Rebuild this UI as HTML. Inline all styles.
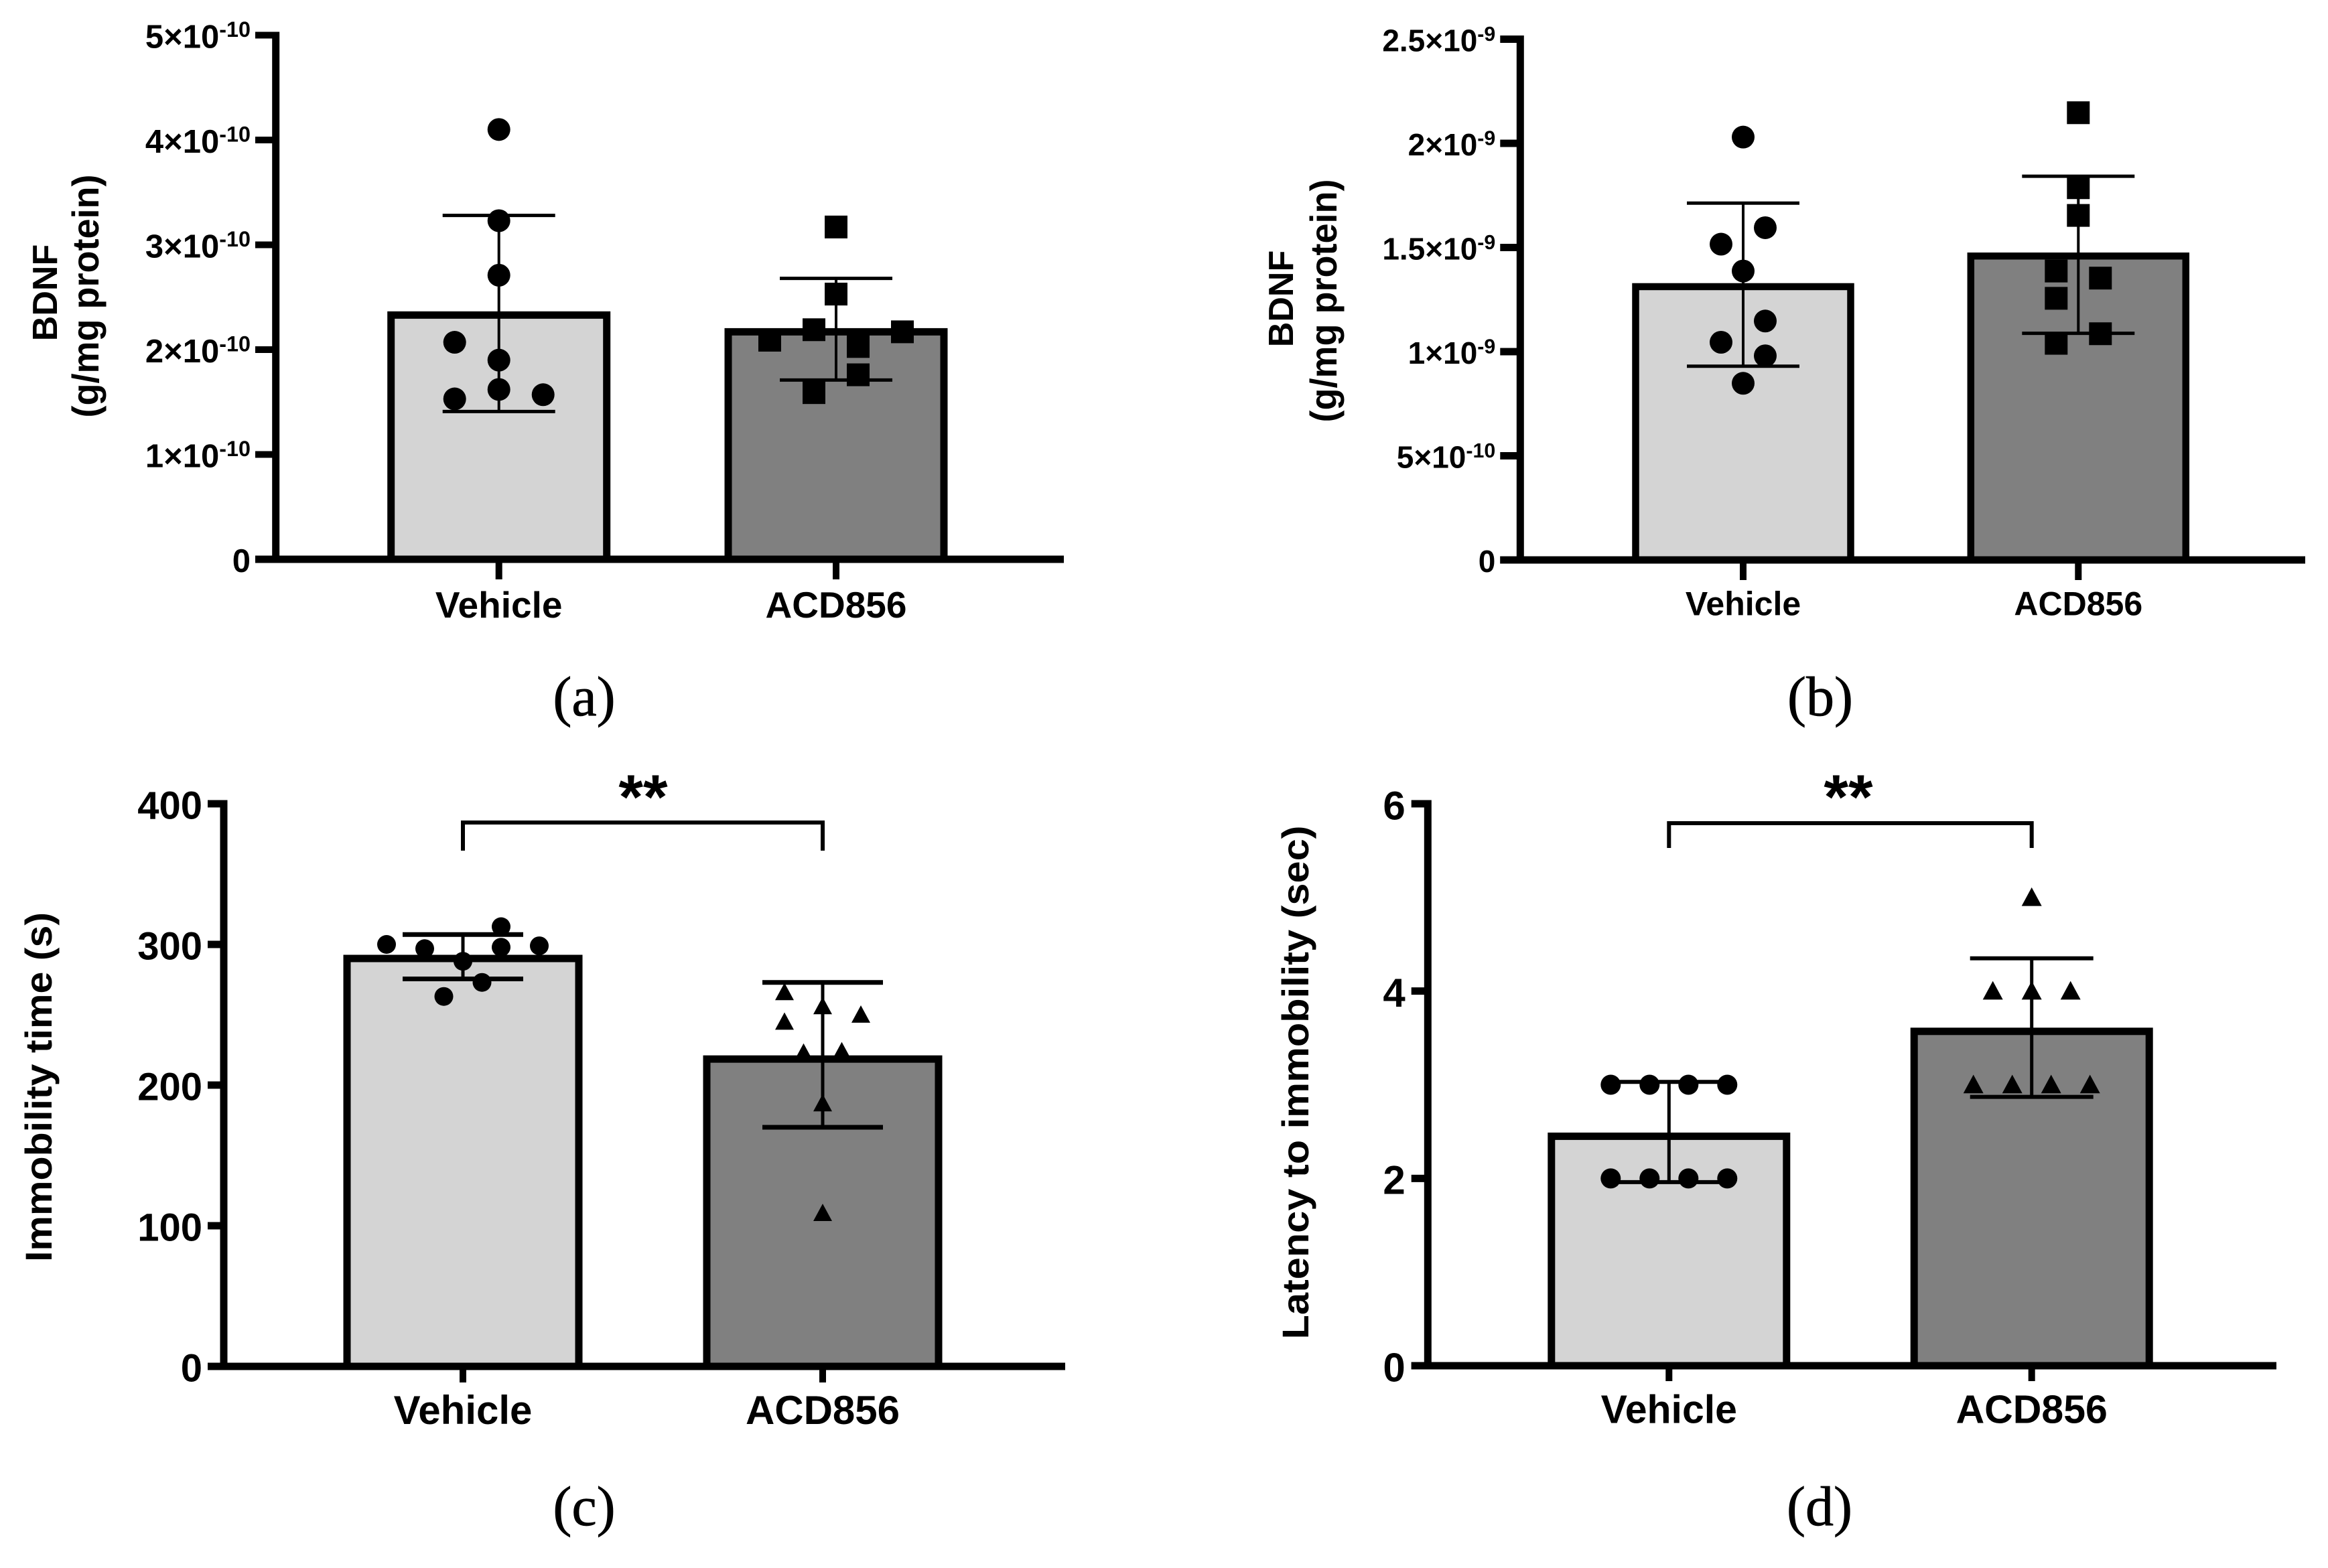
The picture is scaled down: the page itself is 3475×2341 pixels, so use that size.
<!DOCTYPE html>
<html lang="en">
<head>
<meta charset="utf-8">
<title>BDNF and forced swim results</title>
<style>
html,body{margin:0;padding:0;background:#fff;}
svg{display:block;}
text{font-family:"Liberation Sans",Arial,sans-serif;font-weight:700;fill:#000;}
.cap{font-family:"Liberation Serif",serif;font-weight:400;font-size:84px;stroke:#000;stroke-width:0.8;}
</style>
</head>
<body>
<svg id="fig" xmlns="http://www.w3.org/2000/svg" width="3475" height="2341" viewBox="0 0 3475 2341">
  <rect x="0" y="0" width="3475" height="2341" fill="#fff"/>
  <text transform="translate(85,437) rotate(-90)" text-anchor="middle" font-size="52">BDNF</text>
  <text transform="translate(147,442) rotate(-90)" text-anchor="middle" font-size="56" textLength="363" lengthAdjust="spacingAndGlyphs">(g/mg protein)</text>
  <text transform="translate(1930,446) rotate(-90)" text-anchor="middle" font-size="52">BDNF</text>
  <text transform="translate(1995,449) rotate(-90)" text-anchor="middle" font-size="56" textLength="363" lengthAdjust="spacingAndGlyphs">(g/mg protein)</text>
  <text transform="translate(77,1623) rotate(-90)" text-anchor="middle" font-size="56" textLength="522" lengthAdjust="spacingAndGlyphs">Immobility time (s)</text>
  <text transform="translate(1953,1616) rotate(-90)" text-anchor="middle" font-size="56" textLength="767" lengthAdjust="spacingAndGlyphs">Latency to immobility (sec)</text>
  <text class="cap" x="872" y="1068" text-anchor="middle">(a)</text>
  <text class="cap" x="2717" y="1068" text-anchor="middle">(b)</text>
  <text class="cap" x="872" y="2277" text-anchor="middle">(c)</text>
  <text class="cap" x="2716" y="2277" text-anchor="middle">(d)</text>
</svg>
<script>
const categories = ['Vehicle', 'ACD856'];

const aTickValues = [0, 1, 2, 3, 4, 5];
const aTickLabels = ['0', '1×10^-10', '2×10^-10', '3×10^-10', '4×10^-10', '5×10^-10'];
const aMeans = [2.33, 2.17];
const aErrHigh = [3.28, 2.68];
const aErrLow = [1.41, 1.71];
const aVehicle = [4.10, 3.23, 2.71, 2.07, 1.90, 1.62, 1.53, 1.57];
const aVehicleCols = [0, 0, 0, -1, 0, 0, -1, 1];
const aDrug = [3.17, 2.53, 2.19, 2.09, 2.17, 2.03, 1.76, 1.59];
const aDrugCols = [0, 0, -0.5, -1.5, 1.5, 0.5, 0.5, -0.5];

const bTickValues = [0, 0.5, 1, 1.5, 2, 2.5];
const bTickLabels = ['0', '5×10^-10', '1×10^-9', '1.5×10^-9', '2×10^-9', '2.5×10^-9'];
const bMeans = [1.312, 1.459];
const bErrHigh = [1.713, 1.842];
const bErrLow = [0.93, 1.088];
const bVehicle = [2.03, 1.595, 1.516, 1.387, 1.147, 1.045, 0.98, 0.848];
const bVehicleCols = [0, 1, -1, 0, 1, -1, 1, 0];
const bDrug = [2.147, 1.787, 1.654, 1.387, 1.353, 1.256, 1.086, 1.04];
const bDrugCols = [0, 0, 0, -1, 1, -1, 1, -1];

const cTickValues = [0, 100, 200, 300, 400];
const cTickLabels = ['0', '100', '200', '300', '400'];
const cMeans = [290, 218.5];
const cErrHigh = [307, 273];
const cErrLow = [275.5, 170];
const cVehicle = [312.6, 300, 299, 297, 298, 288, 273, 263];
const cVehicleCols = [1, -2, 2, -1, 1, 0, 0.5, -0.5];
const cDrug = [266, 256, 250, 245, 223, 224, 187, 109];
const cDrugCols = [-1, 0, 1, -1, -0.5, 0.5, 0, 0];

const dTickValues = [0, 2, 4, 6];
const dTickLabels = ['0', '2', '4', '6'];
const dMeans = [2.45, 3.57];
const dErrHigh = [3.03, 4.35];
const dErrLow = [1.96, 2.87];
const dVehicle = [3, 3, 3, 3, 2, 2, 2, 2];
const dVehicleCols = [-1.5, -0.5, 0.5, 1.5, -1.5, -0.5, 0.5, 1.5];
const dDrug = [5, 4, 4, 4, 3, 3, 3, 3];
const dDrugCols = [0, -1, 0, 1, -1.5, -0.5, 0.5, 1.5];

const NS = 'http://www.w3.org/2000/svg';
const fig = document.getElementById('fig');

function mk(tag, attrs, parent) {
  const el = document.createElementNS(NS, tag);
  for (const k in attrs) el.setAttribute(k, attrs[k]);
  (parent || fig).appendChild(el);
  return el;
}

function drawPanel(g, d) {
  const group = mk('g', {});
  
  
  const yScale = v => g.y0 + (g.yTop - g.y0) * (v / g.yMax);
  const xScale = i => g.x0 + i * g.step;
  const lw = g.axisW;

  // bars
  d.means.forEach((m, i) => {
    const top = yScale(m);
    const bar = mk('rect', {
      x: xScale(i) - g.barW / 2, y: top,
      width: g.barW, height: g.y0 - top,
      fill: i === 0 ? '#d4d4d4' : '#808080', stroke: '#000', 'stroke-width': g.barStroke
    }, group);
    
    
  });

  // axes
  const yAxis = mk('line', {x1: g.axisX, x2: g.axisX, y1: yScale(g.yMax) - g.tickW / 2, y2: g.y0 + lw / 2, stroke: '#000', 'stroke-width': lw}, group);
  
  
  const xAxis = mk('line', {x1: g.tickLeft, x2: g.xEnd, y1: g.y0, y2: g.y0, stroke: '#000', 'stroke-width': lw}, group);
  
  

  // y ticks
  d.tickValues.forEach((v, i) => {
    const y = yScale(v);
    const tick = mk('line', {x1: g.tickLeft, x2: g.axisX, y1: y, y2: y, stroke: '#000', 'stroke-width': g.tickW}, group);
    
    
    const parts = d.tickLabels[i].split('^');
    const label = mk('text', {
      x: g.tickLeft - g.labelGap, y: y + g.tickFont * 0.39,
      'text-anchor': 'end', 'font-size': g.tickFont
    }, group);
    
    
    const main = mk('tspan', {}, label);
    main.textContent = parts[0];
    if (parts[1]) {
      const sup = mk('tspan', {dy: -g.tickFont * 0.34, 'font-size': g.tickFont * 0.66}, label);
      sup.textContent = parts[1];
    }
  });

  // x ticks + labels
  categories.forEach((c, i) => {
    const x = xScale(i);
    const tick = mk('line', {x1: x, x2: x, y1: g.y0, y2: g.y0 + g.xTick, stroke: '#000', 'stroke-width': g.xTickW}, group);
    
    
    const label = mk('text', {x: x, y: g.xLabelY, 'text-anchor': 'middle', 'font-size': g.xFont}, group);
    
    
    label.textContent = c;
  });

  // error bars
  d.means.forEach((m, i) => {
    const x = xScale(i);
    const hi = yScale(d.errHigh[i]);
    const lo = yScale(d.errLow[i]);
    const stem = mk('line', {x1: x, x2: x, y1: hi, y2: lo, stroke: '#000', 'stroke-width': g.errW}, group);
    
    
    [hi, lo].forEach(y => {
      const cap = mk('line', {x1: x - g.capHalf, x2: x + g.capHalf, y1: y, y2: y, stroke: '#000', 'stroke-width': g.capW}, group);
      
      
    });
  });

  // points
  const drawPoint = (shape, x, y) => {
    const r = g.markR;
    let el;
    if (shape === 'circle') {
      el = mk('ellipse', {cx: x, cy: y, rx: r, ry: r, fill: '#000'}, group);
    } else if (shape === 'square') {
      el = mk('rect', {x: x - r, y: y - r, width: 2 * r, height: 2 * r, fill: '#000'}, group);
    } else {
      el = mk('polygon', {points: [x, y - r, x + r, y + r * 0.85, x - r, y + r * 0.85].reduce((s, n, k) => s + n + (k % 2 ? ' ' : ','), ''), fill: '#000'}, group);
    }
    
    
  };
  d.vehicle.forEach((v, k) => drawPoint(g.shapes[0], xScale(0) + d.vehicleCols[k] * g.colUnit[0], yScale(v)));
  d.drug.forEach((v, k) => drawPoint(g.shapes[1], xScale(1) + d.drugCols[k] * g.colUnit[1], yScale(v)));

  // significance bracket
  if (g.bracket) {
    const b = g.bracket;
    const path = mk('polyline', {
      points: xScale(0) + ',' + b.bottom + ' ' + xScale(0) + ',' + b.top + ' ' + xScale(1) + ',' + b.top + ' ' + xScale(1) + ',' + b.bottom,
      fill: 'none', stroke: '#000', 'stroke-width': 6
    }, group);
    
    
    const stars = mk('text', {x: b.starX, y: b.starY, 'text-anchor': 'middle', 'font-size': 94}, group);
    
    
    stars.textContent = '**';
  }
}

drawPanel({
  id: 'a', axisX: 411.7, x0: 744.7, step: 503.3, barW: 322, barStroke: 11, axisW: 11, tickW: 10,
  y0: 835, yTop: 52.5, yMax: 5, tickLeft: 381, xEnd: 1588, labelGap: 7,
  tickFont: 49, xFont: 55, xLabelY: 922, xTick: 30, xTickW: 10,
  errW: 4, capW: 5, capHalf: 84, markR: 17, colUnit: [66, 66], shapes: ['circle', 'square']
}, {
  tickValues: aTickValues, tickLabels: aTickLabels, means: aMeans, errHigh: aErrHigh, errLow: aErrLow,
  vehicle: aVehicle, vehicleCols: aVehicleCols, drug: aDrug, drugCols: aDrugCols
});

drawPanel({
  id: 'b', axisX: 2269.3, x0: 2602, step: 500.3, barW: 321, barStroke: 10.5, axisW: 11, tickW: 11,
  y0: 836, yTop: 58.5, yMax: 2.5, tickLeft: 2239.3, xEnd: 3441, labelGap: 7,
  tickFont: 46, xFont: 50, xLabelY: 918.5, xTick: 30, xTickW: 10,
  errW: 4, capW: 5, capHalf: 84, markR: 17, colUnit: [33, 33], shapes: ['circle', 'square']
}, {
  tickValues: bTickValues, tickLabels: bTickLabels, means: bMeans, errHigh: bErrHigh, errLow: bErrLow,
  vehicle: bVehicle, vehicleCols: bVehicleCols, drug: bDrug, drugCols: bDrugCols
});

drawPanel({
  id: 'c', axisX: 334, x0: 691, step: 537, barW: 346, barStroke: 11, axisW: 11, tickW: 11,
  y0: 2040, yTop: 1200, yMax: 400, tickLeft: 310, xEnd: 1590, labelGap: 8,
  tickFont: 58, xFont: 60, xLabelY: 2126, xTick: 24, xTickW: 10,
  errW: 5, capW: 7, capHalf: 90, markR: 14, colUnit: [57, 57], shapes: ['circle', 'triangle'],
  bracket: {top: 1228, bottom: 1270, starX: 960, starY: 1222}
}, {
  tickValues: cTickValues, tickLabels: cTickLabels, means: cMeans, errHigh: cErrHigh, errLow: cErrLow,
  vehicle: cVehicle, vehicleCols: cVehicleCols, drug: cDrug, drugCols: cDrugCols
});

drawPanel({
  id: 'd', axisX: 2131.3, x0: 2491.3, step: 541.4, barW: 351, barStroke: 11, axisW: 11, tickW: 11,
  y0: 2039, yTop: 1200, yMax: 6, tickLeft: 2106.7, xEnd: 3398, labelGap: 9,
  tickFont: 60, xFont: 59, xLabelY: 2124.5, xTick: 23, xTickW: 10,
  errW: 5, capW: 6, capHalf: 92, markR: 15, colUnit: [58, 58], shapes: ['circle', 'triangle'],
  bracket: {top: 1229, bottom: 1266, starX: 2759, starY: 1222}
}, {
  tickValues: dTickValues, tickLabels: dTickLabels, means: dMeans, errHigh: dErrHigh, errLow: dErrLow,
  vehicle: dVehicle, vehicleCols: dVehicleCols, drug: dDrug, drugCols: dDrugCols
});
</script>
</body>
</html>
